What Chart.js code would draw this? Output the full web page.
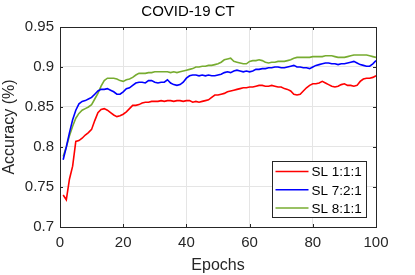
<!DOCTYPE html>
<html>
<head>
<meta charset="utf-8">
<script src="https://cdn.jsdelivr.net/npm/chart.js@4"></script>
<style>
  html, body { margin: 0; padding: 0; background: #fff; }
  #wrap { width: 415px; height: 275px; }
</style>
</head>
<body>
<div id="wrap"><canvas id="accChart"></canvas></div>
<script>
// Data
const epochs = Array.from({ length: 100 }, (_, i) => i + 1);
const seriesNames = ['SL 1:1:1', 'SL 7:2:1', 'SL 8:1:1'];
const seriesColors = ['#ff0000', '#0000ff', '#77ac30'];

const sl111 = [
  0.740, 0.734, 0.760, 0.776, 0.807, 0.808, 0.811, 0.815, 0.818, 0.822,
  0.833, 0.843, 0.847, 0.848, 0.846, 0.843, 0.840, 0.838, 0.839, 0.841,
  0.844, 0.848, 0.852, 0.852, 0.853, 0.855, 0.856, 0.856, 0.857, 0.857,
  0.857, 0.858, 0.857, 0.858, 0.858, 0.857, 0.858, 0.858, 0.857, 0.858,
  0.858, 0.856, 0.857, 0.856, 0.857, 0.858, 0.859, 0.862, 0.865, 0.865,
  0.866, 0.867, 0.869, 0.870, 0.871, 0.872, 0.873, 0.874, 0.874, 0.875,
  0.875, 0.876, 0.877, 0.877, 0.876, 0.876, 0.877, 0.876, 0.875, 0.875,
  0.873, 0.872, 0.870, 0.866, 0.865, 0.866, 0.870, 0.874, 0.877, 0.879,
  0.879, 0.880, 0.882, 0.880, 0.878, 0.876, 0.875, 0.876, 0.878, 0.879,
  0.877, 0.877, 0.876, 0.877, 0.882, 0.885, 0.886, 0.886, 0.887, 0.889
];
const sl721 = [
  0.784, 0.800, 0.818, 0.834, 0.846, 0.854, 0.857, 0.858, 0.860, 0.862,
  0.866, 0.870, 0.872, 0.872, 0.873, 0.871, 0.869, 0.866, 0.866, 0.869,
  0.873, 0.874, 0.877, 0.880, 0.881, 0.881, 0.880, 0.883, 0.883, 0.881,
  0.880, 0.881, 0.881, 0.884, 0.880, 0.878, 0.877, 0.878, 0.881, 0.886,
  0.889, 0.890, 0.890, 0.889, 0.890, 0.889, 0.890, 0.889, 0.889, 0.890,
  0.891, 0.893, 0.894, 0.893, 0.895, 0.896, 0.895, 0.894, 0.895, 0.894,
  0.895, 0.897, 0.897, 0.898, 0.898, 0.899, 0.899, 0.900, 0.900, 0.899,
  0.899, 0.900, 0.901, 0.902, 0.900, 0.900, 0.899, 0.899, 0.898, 0.900,
  0.902, 0.903, 0.904, 0.905, 0.905, 0.904, 0.904, 0.903, 0.904, 0.904,
  0.905, 0.906, 0.907, 0.905, 0.903, 0.902, 0.901, 0.901, 0.904, 0.908
];
const sl811 = [
  0.788, 0.800, 0.814, 0.826, 0.836, 0.842, 0.846, 0.848, 0.850, 0.853,
  0.860, 0.867, 0.876, 0.883, 0.886, 0.886, 0.886, 0.885, 0.883, 0.882,
  0.884, 0.885, 0.887, 0.890, 0.892, 0.892, 0.892, 0.893, 0.893, 0.894,
  0.894, 0.894, 0.894, 0.894, 0.893, 0.894, 0.893, 0.894, 0.895, 0.896,
  0.897, 0.898, 0.900, 0.900, 0.901, 0.901, 0.902, 0.902, 0.903, 0.904,
  0.906, 0.909, 0.910, 0.911, 0.907, 0.906, 0.905, 0.904, 0.904, 0.907,
  0.908, 0.908, 0.909, 0.908, 0.906, 0.905, 0.906, 0.906, 0.907, 0.907,
  0.907, 0.908, 0.909, 0.911, 0.912, 0.912, 0.912, 0.912, 0.912, 0.913,
  0.913, 0.913, 0.913, 0.914, 0.914, 0.914, 0.913, 0.912, 0.912, 0.912,
  0.913, 0.914, 0.915, 0.915, 0.915, 0.915, 0.915, 0.914, 0.913, 0.912
];
const xTicks = [0, 20, 40, 60, 80, 100];
const yTicks = [0.7, 0.75, 0.8, 0.85, 0.9, 0.95];

const FONT = "'Liberation Sans', Arial, Helvetica, sans-serif";
const INK = '#262626';

// box around plot, inward ticks, and the legend inside the plot
const matlabAxes = {
  id: 'matlabAxes',
  afterDatasetsDraw(chart) {
    const { ctx, chartArea: a, scales } = chart;
    ctx.save();
    ctx.strokeStyle = INK;
    ctx.lineWidth = 1;
    ctx.beginPath();
    xTicks.forEach(v => {
      const x = Math.round(scales.x.getPixelForValue(v)) + 0.5;
      ctx.moveTo(x, a.bottom); ctx.lineTo(x, a.bottom - 3);
      ctx.moveTo(x, a.top); ctx.lineTo(x, a.top + 3);
    });
    yTicks.forEach(v => {
      const y = Math.round(scales.y.getPixelForValue(v)) + 0.5;
      ctx.moveTo(a.left, y); ctx.lineTo(a.left + 3, y);
      ctx.moveTo(a.right, y); ctx.lineTo(a.right - 3, y);
    });
    ctx.stroke();
    ctx.strokeRect(Math.round(a.left) + 0.5, Math.round(a.top) + 0.5,
                   Math.round(a.right - a.left), Math.round(a.bottom - a.top));

    // legend
    const bx = 272.5, by = 161.5, bw = 94, bh = 56;
    ctx.fillStyle = '#fff';
    ctx.fillRect(bx, by, bw, bh);
    ctx.strokeStyle = INK;
    ctx.strokeRect(bx, by, bw, bh);
    ctx.font = '13.5px ' + FONT;
    ctx.textBaseline = 'middle';
    chart.data.datasets.forEach((ds, i) => {
      const y = by + 10 + i * 18.3;
      ctx.strokeStyle = ds.borderColor;
      ctx.lineWidth = 1.5;
      ctx.beginPath();
      ctx.moveTo(bx + 3, y); ctx.lineTo(bx + 36, y);
      ctx.stroke();
      ctx.fillStyle = '#000';
      ctx.fillText(ds.label, bx + 39, y + 1);
    });
    ctx.restore();
  }
};

const ctx = document.getElementById('accChart').getContext('2d');
const myChart = new Chart(ctx, {
  type: 'line',
  data: {
    labels: epochs,
    datasets: [sl111, sl721, sl811].map((vals, i) => ({
      label: seriesNames[i],
      data: vals.map((v, j) => ({ x: epochs[j], y: v })),
      borderColor: seriesColors[i],
      borderWidth: 1.6,
      pointRadius: 0,
      tension: 0,
      fill: false
    }))
  },
  options: {
    responsive: true,
    maintainAspectRatio: false,
    animation: false,
    events: [],
    layout: { padding: { left: 0, right: 39, top: 0, bottom: 0 } },
    plugins: {
      legend: { display: false },
      tooltip: { enabled: false },
      title: {
        display: true,
        text: 'COVID-19 CT',
        color: '#000',
        font: { family: FONT, size: 15, weight: 'normal' },
        padding: { top: 3, bottom: 6 }
      }
    },
    scales: {
      x: {
        type: 'linear',
        min: 0, max: 100,
        afterBuildTicks: s => { s.ticks = xTicks.map(v => ({ value: v })); },
        ticks: { color: INK, font: { family: FONT, size: 15 }, padding: 7, maxRotation: 0 },
        grid: { color: '#e5e5e5', drawTicks: false },
        border: { display: false },
        title: { display: true, text: 'Epochs', color: INK, font: { family: FONT, size: 16 }, padding: { top: 1, bottom: 0 } },
        afterFit: s => { s.height = 48; }
      },
      y: {
        min: 0.7, max: 0.95,
        afterBuildTicks: s => { s.ticks = yTicks.map(v => ({ value: v })); },
        ticks: { color: INK, font: { family: FONT, size: 15 }, padding: 6, callback: v => String(+v.toFixed(2)) },
        grid: { color: '#e5e5e5', drawTicks: false },
        border: { display: false },
        title: { display: true, text: 'Accuracy (%)', color: INK, font: { family: FONT, size: 16 }, padding: { top: 0, bottom: 3 } },
        afterFit: s => { s.width = 60; }
      }
    }
  },
  plugins: [matlabAxes]
});
</script>
</body>
</html>
